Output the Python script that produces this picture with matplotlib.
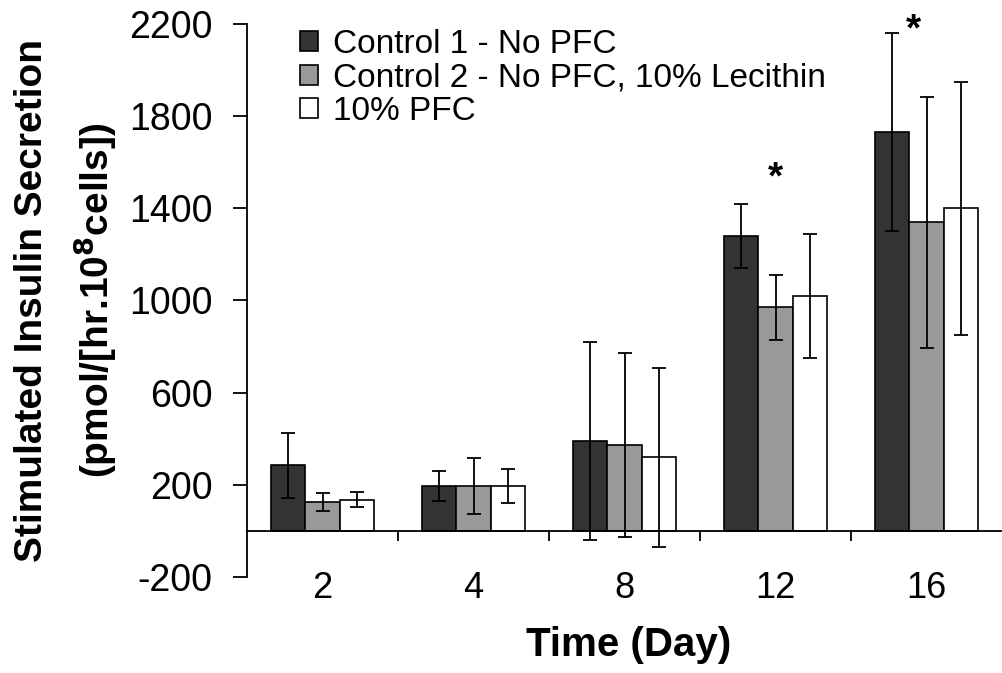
import matplotlib
matplotlib.use("Agg")
import matplotlib.pyplot as plt
import numpy as np
from matplotlib.ticker import FixedLocator

plt.rcParams['font.family'] = ['Liberation Sans', 'DejaVu Sans']
plt.rcParams['axes.unicode_minus'] = False

days = ["2", "4", "8", "12", "16"]
series_names = ["Control 1 - No PFC", "Control 2 - No PFC, 10% Lecithin", "10% PFC"]
control1 = [285, 195, 390, 1280, 1730]
control1_err = [140, 65, 428, 137, 430]
control2 = [125, 195, 373, 970, 1340]
control2_err = [40, 123, 399, 140, 545]
pfc10 = [135, 195, 319, 1020, 1400]
pfc10_err = [32, 75, 389, 268, 550]
colors = ["#333333", "#999999", "#ffffff"]

# significance markers: (group index, value)
star_groups = [3, 4]
star_values = [1530, 2170]

fig = plt.figure(figsize=(10.02, 6.73), dpi=100)
ax = fig.add_axes([247/1002, 1-577/673, 1-247/1002, (577-24)/673])

x = np.arange(len(days))
w = 0.228
means = [control1, control2, pfc10]
errs = [control1_err, control2_err, pfc10_err]
for i, (m, e, c, name) in enumerate(zip(means, errs, colors, series_names)):
    ax.bar(x + (i-1)*w, m, w, color=c, edgecolor='black', linewidth=1.2, label=name, zorder=2)
    ax.errorbar(x + (i-1)*w, m, yerr=e, fmt='none', ecolor='black', elinewidth=1.3,
                capsize=5, capthick=1.3, zorder=3)

star_dx = [0.0, -0.083]
for g, v, dx in zip(star_groups, star_values, star_dx):
    ax.text(g + dx, v, "*", ha='center', va='center', fontsize=28, fontweight='bold',
            clip_on=False)

ax.set_xlim(-0.5, len(days) - 0.5)
ax.set_ylim(-200, 2200)
ax.set_yticks(np.arange(-200, 2201, 400))
ax.tick_params(axis='y', direction='out', length=10, width=1.3, pad=15, labelsize=27)

ax.spines['top'].set_visible(False)
ax.spines['right'].set_visible(False)
ax.spines['bottom'].set_position(('data', 0))
for s in ['left', 'bottom']:
    ax.spines[s].set_linewidth(1.3)
ax.set_xticks(x)
ax.set_xticklabels(days)
ax.xaxis.set_minor_locator(FixedLocator(x[:-1] + 0.5))
ax.tick_params(axis='x', which='major', length=0, pad=29, labelsize=26)
ax.tick_params(axis='x', which='minor', direction='out', length=7, width=1.3)

fig.text(629/1002, 1-645/673, "Time (Day)", ha='center', va='center', fontsize=29,
         fontweight='bold')
fig.text(32/1002, 1-300/673, "Stimulated Insulin Secretion", rotation=90, ha='center',
         va='center', fontsize=28, fontweight='bold')
fig.text(95/1002, 1-300/673, r"(pmol/[hr.10$^{\mathbf{8}}$cells])", rotation=90, ha='center',
         va='center', fontsize=28, fontweight='bold')

leg = ax.legend(loc='upper left', bbox_to_anchor=(53/755, 1.0 - 5/553), frameon=False,
                fontsize=24, handlelength=0.55, handleheight=0.55, handletextpad=0.45,
                labelspacing=0.07, borderpad=0, borderaxespad=0)

fig.savefig("out.png", dpi=100)
